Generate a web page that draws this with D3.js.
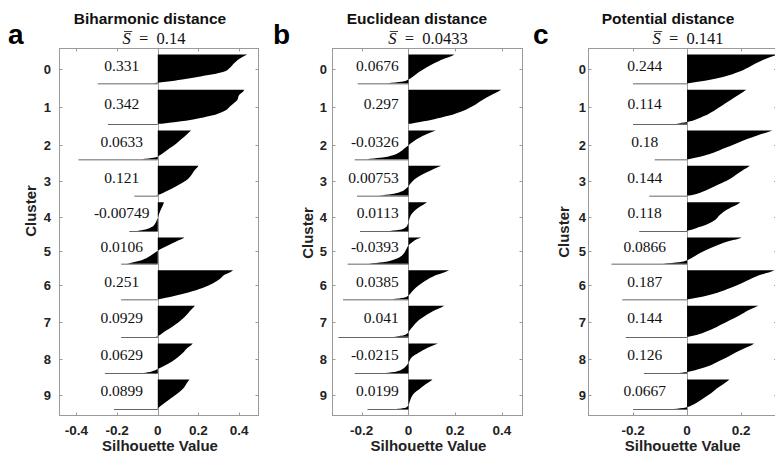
<!DOCTYPE html>
<html>
<head>
<meta charset="utf-8">
<script src="https://cdn.jsdelivr.net/npm/d3@7/dist/d3.min.js"></script>
<style>
body { margin: 0; background: #fff; }
svg { display: block; }
</style>
</head>
<body>
<div id="chart"></div>
<script>
// cluster ids and number of points in each cluster (same clustering in all 3 panels)
var clusters = ["0", "1", "2", "3", "4", "5", "6", "7", "8", "9"];
var clusterSize = [88, 104, 88, 91, 88, 80, 89, 95, 90, 90];
var clusterGap = 18;

// rank position (0 = top of cluster, 1 = bottom) of the profile samples
var profileT = [0, 0.05, 0.15, 0.3, 0.45, 0.6, 0.75, 0.85, 0.93, 0.98];

// Biharmonic distance: sorted silhouette values per cluster
var biharmonicProfile = [
	[0.44, 0.425, 0.40, 0.375, 0.355, 0.32, 0.21, 0.12, 0.04, -0.025],
	[0.425, 0.42, 0.40, 0.39, 0.36, 0.33, 0.26, 0.18, 0.09, 0.02],
	[0.164, 0.155, 0.14, 0.115, 0.09, 0.06, 0.03, 0.008, -0.02, -0.08],
	[0.20, 0.195, 0.18, 0.165, 0.145, 0.11, 0.07, 0.04, 0.015, -0.01],
	[0.03, 0.028, 0.022, 0.012, 0.004, -0.004, -0.015, -0.03, -0.06, -0.10],
	[0.131, 0.12, 0.09, 0.05, 0.01, -0.02, -0.05, -0.08, -0.12, -0.15],
	[0.37, 0.36, 0.33, 0.305, 0.27, 0.22, 0.15, 0.09, 0.04, 0.005],
	[0.183, 0.175, 0.16, 0.14, 0.115, 0.085, 0.05, 0.025, 0.008, -0.01],
	[0.172, 0.165, 0.145, 0.125, 0.10, 0.07, 0.03, 0.0, -0.03, -0.07],
	[0.156, 0.15, 0.14, 0.125, 0.10, 0.07, 0.04, 0.02, 0.005, -0.005]
];
var biharmonicMin = [-0.295, -0.245, -0.39, -0.115, -0.14, -0.18, -0.18, -0.18, -0.26, -0.215];
var biharmonicMean = ["0.331", "0.342", "0.0633", "0.121", "-0.00749", "0.0106", "0.251", "0.0929", "0.0629", "0.0899"];

// Euclidean distance
var euclideanProfile = [
	[0.197, 0.185, 0.15, 0.11, 0.075, 0.045, 0.02, 0.0, -0.03, -0.09],
	[0.397, 0.385, 0.355, 0.315, 0.28, 0.235, 0.17, 0.11, 0.05, 0.01],
	[0.117, 0.10, 0.07, 0.035, 0.008, -0.015, -0.04, -0.07, -0.12, -0.18],
	[0.14, 0.125, 0.095, 0.055, 0.025, 0.007, -0.01, -0.03, -0.07, -0.13],
	[0.079, 0.07, 0.05, 0.025, 0.01, 0.003, -0.003, -0.01, -0.03, -0.08],
	[0.054, 0.04, 0.02, 0.0, -0.01, -0.02, -0.04, -0.07, -0.11, -0.17],
	[0.174, 0.16, 0.125, 0.085, 0.055, 0.03, 0.012, 0.0, -0.02, -0.07],
	[0.154, 0.14, 0.11, 0.075, 0.045, 0.025, 0.008, -0.002, -0.02, -0.07],
	[0.126, 0.11, 0.08, 0.045, 0.015, 0.003, -0.01, -0.025, -0.05, -0.10],
	[0.103, 0.095, 0.075, 0.05, 0.025, 0.012, 0.005, 0.0, -0.01, -0.05]
];
var euclideanMin = [-0.217, 0.0, -0.23, -0.22, -0.207, -0.26, -0.28, -0.30, -0.23, -0.175];
var euclideanMean = ["0.0676", "0.297", "-0.0326", "0.00753", "0.0113", "-0.0393", "0.0385", "0.041", "-0.0215", "0.0199"];

// Potential distance
var potentialProfile = [
	[0.34, 0.32, 0.29, 0.255, 0.225, 0.19, 0.14, 0.09, 0.04, 0.005],
	[0.219, 0.21, 0.19, 0.16, 0.13, 0.10, 0.065, 0.035, 0.0, -0.04],
	[0.316, 0.30, 0.265, 0.22, 0.18, 0.14, 0.10, 0.065, 0.03, 0.005],
	[0.232, 0.225, 0.205, 0.18, 0.155, 0.12, 0.085, 0.06, 0.035, 0.01],
	[0.197, 0.19, 0.17, 0.14, 0.12, 0.105, 0.075, 0.045, 0.02, -0.005],
	[0.202, 0.19, 0.15, 0.11, 0.075, 0.045, 0.02, 0.0, -0.03, -0.09],
	[0.324, 0.31, 0.275, 0.235, 0.20, 0.16, 0.115, 0.075, 0.035, 0.005],
	[0.265, 0.25, 0.225, 0.195, 0.16, 0.125, 0.09, 0.06, 0.03, 0.005],
	[0.248, 0.24, 0.215, 0.18, 0.15, 0.115, 0.08, 0.045, 0.01, -0.03],
	[0.157, 0.15, 0.135, 0.11, 0.09, 0.065, 0.04, 0.02, -0.005, -0.05]
];
var potentialMin = [-0.20, -0.20, -0.12, -0.14, -0.177, -0.28, -0.24, -0.227, -0.16, -0.20];
var potentialMean = ["0.244", "0.114", "0.18", "0.144", "0.118", "0.0866", "0.187", "0.144", "0.126", "0.0667"];

var titles = ["Biharmonic distance", "Euclidean distance", "Potential distance"];
var overallMean = ["0.14", "0.0433", "0.141"];
var letters = ["a", "b", "c"];
var xTicks = [[-0.4, -0.2, 0, 0.2, 0.4], [-0.2, 0, 0.2, 0.4], [-0.2, 0, 0.2]];
var xLimits = [[-0.483, 0.495], [-0.325, 0.488], [-0.365, 0.333]];

var width = 775, height = 455;
var top_ = 48.5, bottom_ = 415.5;
var axisColor = "#9a9a9a";
var sans = "'Liberation Sans', Arial, sans-serif";
var serif = "'Liberation Serif', 'Times New Roman', serif";

// layout of the three axes
var panels = [
	{ left: 59.5, right: 258.5, letterX: 8, titleX: 150, subX: 154, ytX: 51, ylabX: 36, ylabY: 211, valX: 121.7, valAnchor: "middle" },
	{ left: 332.5, right: 522.5, letterX: 273, titleX: 417, subX: 428, ytX: 327, ylabX: 313, ylabY: 233, valX: 398.7, valAnchor: "end" },
	{ left: 588.5, right: 777, letterX: 533, titleX: 668, subX: 688, ytX: 586, ylabX: 569, ylabY: 232, valX: 644.7, valAnchor: "middle" }
];
var profiles = [biharmonicProfile, euclideanProfile, potentialProfile];
var mins = [biharmonicMin, euclideanMin, potentialMin];
var means = [biharmonicMean, euclideanMean, potentialMean];

// cluster bands in point units
var bands = [];
var cursor = clusterGap;
clusterSize.forEach(function(n, i) {
	bands.push({ id: clusters[i], top: cursor, size: n });
	cursor += n + clusterGap;
});
var totalUnits = cursor;

var svg = d3.select("#chart").append("svg")
	.attr("width", width)
	.attr("height", height);

panels.forEach(function(p, pi) {
	var x = d3.scaleLinear().domain(xLimits[pi]).range([p.left, p.right]);
	var y = d3.scaleLinear().domain([0, totalUnits]).range([top_, bottom_]);

	var clipId = "clip" + pi;
	svg.append("clipPath").attr("id", clipId)
		.append("rect")
		.attr("x", p.left).attr("y", top_)
		.attr("width", p.right - p.left).attr("height", bottom_ - top_);

	var g = svg.append("g");
	var plot = g.append("g").attr("clip-path", "url(#" + clipId + ")");

	// zero baseline
	plot.append("line")
		.attr("x1", Math.round(x(0)) + 0.5).attr("x2", Math.round(x(0)) + 0.5)
		.attr("y1", top_).attr("y2", bottom_)
		.attr("stroke", axisColor).attr("stroke-width", 1);

	var area = d3.area()
		.y(function(d) { return y(d.u); })
		.x0(x(0))
		.x1(function(d) { return x(d.v); })
		.curve(d3.curveMonotoneY);

	bands.forEach(function(b, ci) {
		var pts = profileT.map(function(t, k) {
			return { u: b.top + t * b.size, v: profiles[pi][ci][k] };
		});
		plot.append("path")
			.attr("d", area(pts))
			.attr("fill", "#000");
		// single most negative member drawn as a one-point bar
		var yb = y(b.top + b.size);
		plot.append("line")
			.attr("x1", x(0)).attr("x2", x(mins[pi][ci]))
			.attr("y1", yb).attr("y2", yb)
			.attr("stroke", "#555").attr("stroke-width", 0.9);
		// mean value label
		g.append("text")
			.attr("x", p.valX)
			.attr("y", y(b.top + b.size / 2) + 1.5)
			.attr("text-anchor", p.valAnchor)
			.attr("font-family", serif)
			.attr("font-size", 15.5)
			.attr("fill", "#111")
			.text(means[pi][ci]);
	});

	// box
	g.append("rect")
		.attr("x", p.left).attr("y", top_)
		.attr("width", p.right - p.left).attr("height", bottom_ - top_)
		.attr("fill", "none").attr("stroke", axisColor).attr("stroke-width", 1);

	// inward ticks, mirrored on opposite sides
	var tl = 3;
	xTicks[pi].forEach(function(t) {
		var xt = Math.round(x(t)) + 0.5;
		g.append("line").attr("x1", xt).attr("x2", xt).attr("y1", bottom_).attr("y2", bottom_ - tl).attr("stroke", axisColor);
		g.append("line").attr("x1", xt).attr("x2", xt).attr("y1", top_).attr("y2", top_ + tl).attr("stroke", axisColor);
		g.append("text")
			.attr("x", x(t)).attr("y", 434.5)
			.attr("text-anchor", "middle")
			.attr("font-family", sans).attr("font-weight", "bold").attr("font-size", 13.5)
			.attr("fill", "#222")
			.text(String(t));
	});
	bands.forEach(function(b) {
		var yt = Math.round(y(b.top + b.size / 2)) + 0.5;
		g.append("line").attr("x1", p.left).attr("x2", p.left + tl).attr("y1", yt).attr("y2", yt).attr("stroke", axisColor);
		g.append("line").attr("x1", p.right).attr("x2", p.right - tl).attr("y1", yt).attr("y2", yt).attr("stroke", axisColor);
		g.append("text")
			.attr("x", p.ytX).attr("y", yt + 4.5)
			.attr("text-anchor", "end")
			.attr("font-family", sans).attr("font-weight", "bold").attr("font-size", 13)
			.attr("fill", "#222")
			.text(b.id);
	});

	// axis labels
	g.append("text")
		.attr("x", (p.left + Math.min(p.right, 775)) / 2 + 1).attr("y", 450.5)
		.attr("text-anchor", "middle")
		.attr("font-family", sans).attr("font-weight", "bold").attr("font-size", 15)
		.attr("fill", "#222")
		.text("Silhouette Value");
	g.append("text")
		.attr("transform", "translate(" + p.ylabX + "," + p.ylabY + ") rotate(-90)")
		.attr("text-anchor", "middle")
		.attr("font-family", sans).attr("font-weight", "bold").attr("font-size", 15)
		.attr("fill", "#222")
		.text("Cluster");

	// title, mean silhouette subtitle and panel letter
	g.append("text")
		.attr("x", p.titleX).attr("y", 23.5)
		.attr("text-anchor", "middle")
		.attr("font-family", sans).attr("font-weight", "bold").attr("font-size", 15.5)
		.attr("fill", "#111")
		.text(titles[pi]);

	var sub = g.append("text")
		.attr("y", 44)
		.attr("font-family", serif).attr("font-size", 16.5)
		.attr("fill", "#111");
	var sSpan = sub.append("tspan").attr("font-style", "italic").text("S");
	sub.append("tspan").text("\u2002=\u2002" + overallMean[pi]);
	var w = sub.node().getComputedTextLength();
	var sw = sSpan.node().getComputedTextLength();
	var sx = p.subX - w / 2;
	sub.attr("x", sx);
	g.append("line")
		.attr("x1", sx + 1.5).attr("x2", sx + sw + 1.5)
		.attr("y1", 31.5).attr("y2", 31.5)
		.attr("stroke", "#111").attr("stroke-width", 0.8);

	g.append("text")
		.attr("x", p.letterX).attr("y", 43.5)
		.attr("font-family", sans).attr("font-weight", "bold").attr("font-size", 28)
		.attr("fill", "#000")
		.text(letters[pi]);
});
</script>
</body>
</html>
